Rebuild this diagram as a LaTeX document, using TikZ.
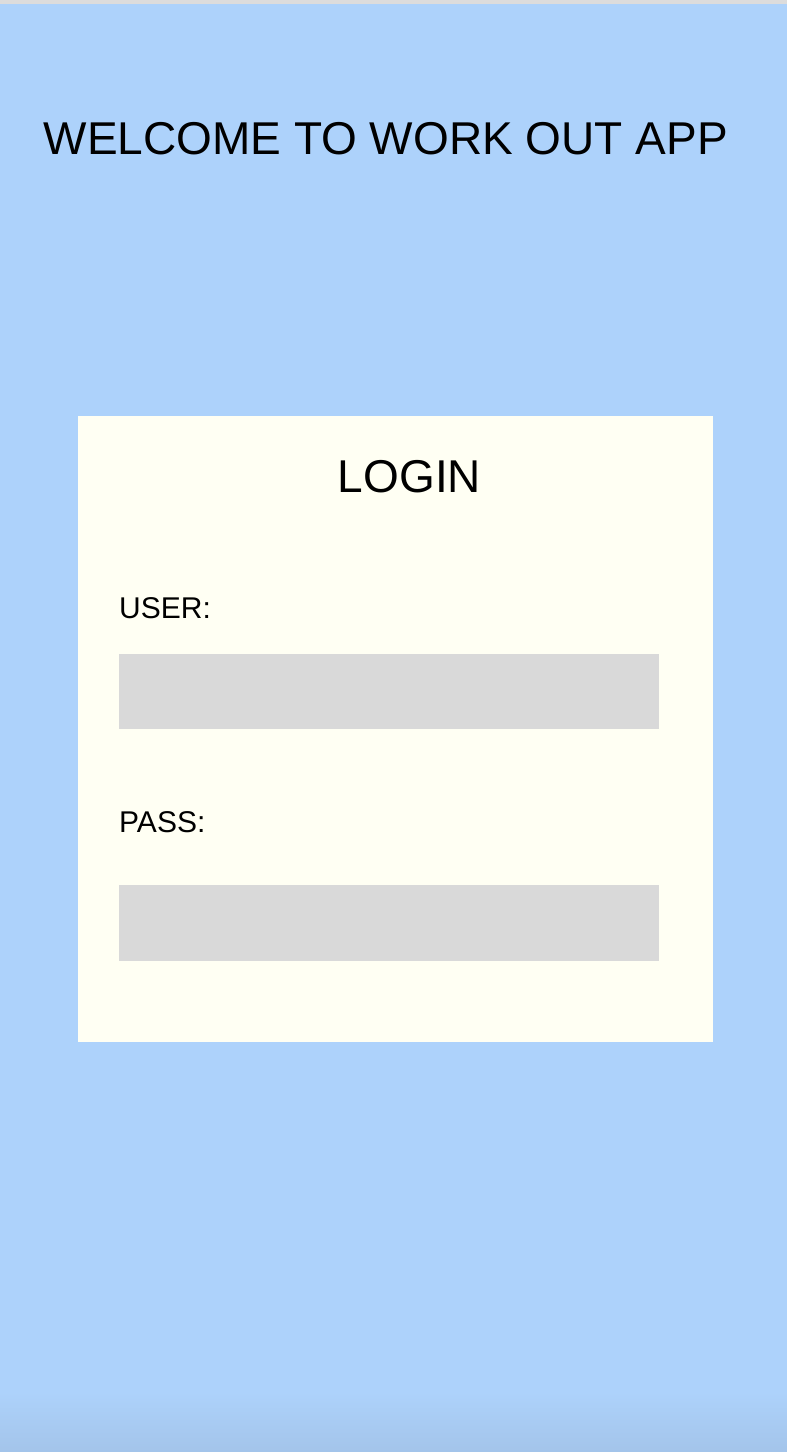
\documentclass[tikz,border=0pt]{standalone}
\usepackage{fontspec}
\setmainfont{Liberation Sans}
\definecolor{skyblue}{HTML}{ADD2FB}
\definecolor{skydark}{HTML}{A3C4EA}
\definecolor{cardcream}{HTML}{FFFFF3}
\definecolor{fieldgray}{HTML}{D9D9D9}
\definecolor{topline}{HTML}{DCDCDC}
\begin{document}
\begin{tikzpicture}[line cap=round,line join=round,x=1pt,y=-1pt,
  inputbox/.style={fill=fieldgray,draw=none},
  bigtext/.style={inner sep=0pt,font=\fontsize{46}{50}\selectfont},
  smalltext/.style={inner sep=0pt,anchor=base west,font=\fontsize{30}{34}\selectfont}]
\useasboundingbox (0,0) rectangle (787,1452);
\fill[skyblue] (0,0) rectangle (787,1452);
\shade[top color=skyblue,bottom color=skydark] (0,1392) rectangle (787,1452);
\fill[topline] (0,0) rectangle (787,4);
\node[bigtext,anchor=base west] (welcome) at (43.5,154) {WELCOME TO WORK OUT APP};
\fill[cardcream] (78,416) rectangle (713,1042);
\node[bigtext,anchor=base] (login) at (409.5,492) {LOGIN};
\node[smalltext] (user) at (119,618) {USER:};
\fill[inputbox] (119,654) rectangle (659,729);
\node[smalltext] (pass) at (119,832) {PASS:};
\fill[inputbox] (119,885) rectangle (659,961);
\end{tikzpicture}
\end{document}
